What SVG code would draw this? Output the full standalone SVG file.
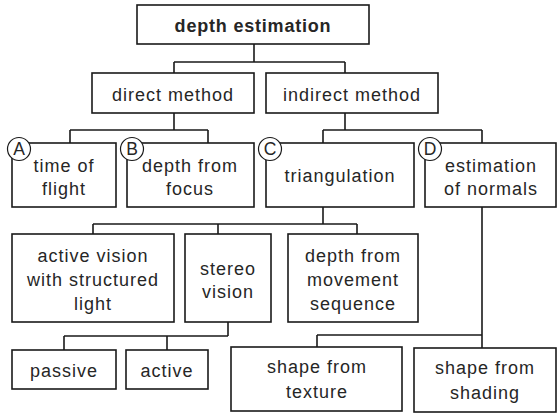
<svg xmlns="http://www.w3.org/2000/svg" width="558" height="414" viewBox="0 0 558 414">
<style>
.box{fill:#fff;stroke:#1a1a1a;stroke-width:1.6}
.c{fill:#fff;stroke:#1a1a1a;stroke-width:1.2}
.t{font-family:"Liberation Sans",Arial,sans-serif;font-size:18px;fill:#262626;text-anchor:middle;letter-spacing:1px}
.b{font-weight:bold;letter-spacing:0.8px}
.l{font-family:"Liberation Sans",Arial,sans-serif;font-size:17.5px;fill:#262626;text-anchor:middle}
.con{fill:none;stroke:#1a1a1a;stroke-width:1.6}
</style>
<g id="connectors" class="con">
<path d="M254 44V62M174 62H345M174 62V73M345 62V73"/>
<path d="M174 113V130M70 130H208M70 130V143M208 130V143"/>
<path d="M345 113V130M323 130H482M323 130V143M482 130V143"/>
<path d="M323 207V224M93 224H357M93 224V234M218 224V234M357 224V234"/>
<path d="M228 322V336M64 336H228M64 336V350M167 336V350"/>
<path d="M482 207V335M317 335H482M317 335V347M482 335V348"/>
</g>
<g id="root"><rect class="box" x="137" y="5" width="232" height="39"/><text class="t b" x="253" y="32">depth estimation</text></g>
<g id="direct"><rect class="box" x="92" y="73" width="162" height="40"/><text class="t" x="173" y="101">direct method</text></g>
<g id="indirect"><rect class="box" x="266" y="73" width="172" height="40"/><text class="t" x="352" y="101">indirect method</text></g>
<g id="tof"><rect class="box" x="12" y="143" width="104" height="64"/><text class="t" x="64" y="172">time of</text><text class="t" x="64" y="195">flight</text><circle class="c" cx="19" cy="149" r="11.5"/><text class="l" x="19" y="155">A</text></g>
<g id="dff"><rect class="box" x="127" y="143" width="127" height="64"/><text class="t" x="190" y="172">depth from</text><text class="t" x="190" y="195">focus</text><circle class="c" cx="132" cy="149" r="11.5"/><text class="l" x="132" y="155">B</text></g>
<g id="tri"><rect class="box" x="266" y="143" width="148" height="64"/><text class="t" x="340" y="182">triangulation</text><circle class="c" cx="270" cy="149" r="11.5"/><text class="l" x="270" y="155">C</text></g>
<g id="normals"><rect class="box" x="425" y="143" width="131" height="64"/><text class="t" x="491" y="172">estimation</text><text class="t" x="491" y="195">of normals</text><circle class="c" cx="430" cy="149" r="11.5"/><text class="l" x="430" y="155">D</text></g>
<g id="avsl"><rect class="box" x="12" y="234" width="162" height="88"/><text class="t" x="93" y="262">active vision</text><text class="t" x="93" y="286">with structured</text><text class="t" x="93" y="310">light</text></g>
<g id="stereo"><rect class="box" x="185" y="234" width="86" height="88"/><text class="t" x="228" y="275">stereo</text><text class="t" x="228" y="298">vision</text></g>
<g id="movement"><rect class="box" x="288" y="234" width="130" height="88"/><text class="t" x="353" y="262">depth from</text><text class="t" x="353" y="286">movement</text><text class="t" x="353" y="310">sequence</text></g>
<g id="passive"><rect class="box" x="12" y="350" width="104" height="39"/><text class="t" x="64" y="377">passive</text></g>
<g id="active"><rect class="box" x="126" y="350" width="82" height="39"/><text class="t" x="167" y="377">active</text></g>
<g id="texture"><rect class="box" x="231" y="347" width="171" height="64"/><text class="t" x="317" y="373">shape from</text><text class="t" x="317" y="398">texture</text></g>
<g id="shading"><rect class="box" x="414" y="348" width="142" height="64"/><text class="t" x="485" y="374">shape from</text><text class="t" x="485" y="399">shading</text></g>
</svg>
